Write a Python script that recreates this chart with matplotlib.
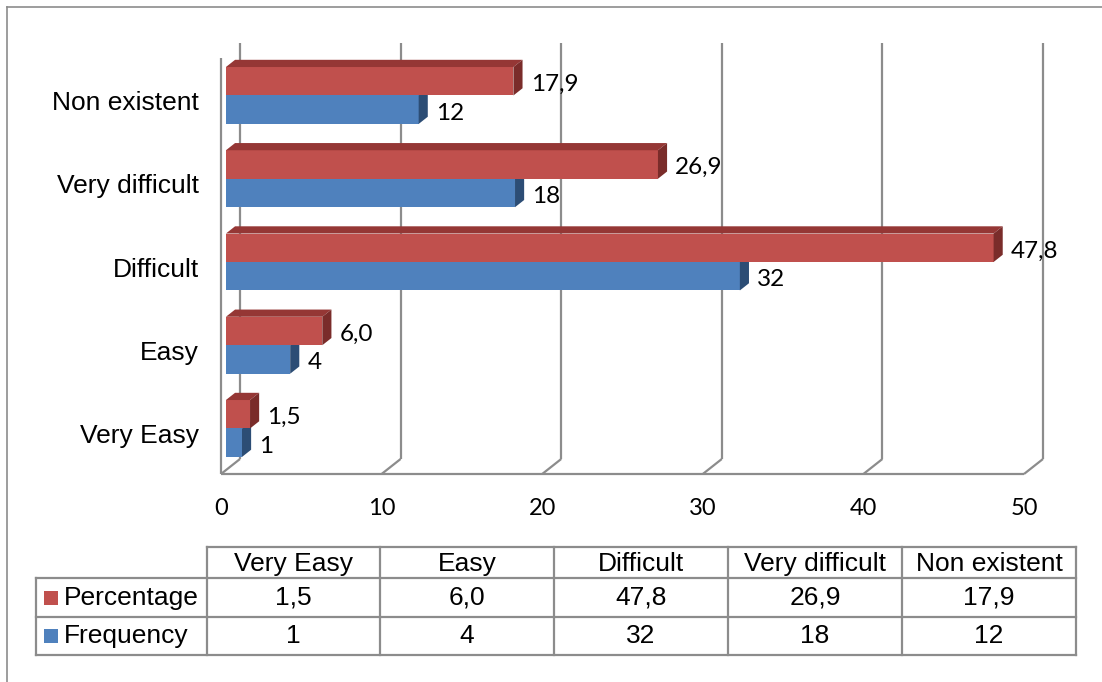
import matplotlib.pyplot as plt
from matplotlib.patches import Polygon, Rectangle

# survey answers, bottom to top
categories = ["Very Easy", "Easy", "Difficult", "Very difficult", "Non existent"]
percentage = [1.5, 6.0, 47.8, 26.9, 17.9]
frequency = [1, 4, 32, 18, 12]
x_ticks = [0, 10, 20, 30, 40, 50]
series_names = ["Percentage", "Frequency"]

RED = ("#C0504D", "#953735", "#7A2C2A")   # front, top, side
BLUE = ("#4F81BD", "#3A6496", "#2C4D75")
GRID = "#8C8C8C"
ARIAL = "Liberation Sans"
CALIBRI = "Lato"


def fmt(v):
    # decimal comma like the original spreadsheet
    return ("%.1f" % v).replace(".", ",") if isinstance(v, float) else str(v)


W, H = 1102, 682
fig = plt.figure(figsize=(W / 100, H / 100), dpi=100)

# pixel-space overlay: outer frame and data table
pix = fig.add_axes([0, 0, 1, 1])
pix.set_xlim(0, W)
pix.set_ylim(H, 0)
pix.axis("off")

# chart axes; the 3D look is faked by shifting points along a depth direction
SX, SY = 16.06, 83.25          # px per value unit, px per category
DX, DY = 19 / SX, 15 / SY      # full wall depth in data units
left, right, bottom, top = 221, 1070, 474, 30
ax = fig.add_axes([left / W, 1 - bottom / H, (right - left) / W, (bottom - top) / H])
ax.set_xlim(0, (right - left) / SX)
ax.set_ylim(-0.5, -0.5 + (bottom - top) / SY)
ax.axis("off")


def pt(v, y, d):
    return (v + d * DX, y + d * DY)


ymin, ymax = -0.5, len(categories) - 0.5
line_kw = dict(color=GRID, lw=1.6, clip_on=False, solid_capstyle="butt", zorder=1)

# back wall gridlines, floor diagonals, tick labels
for t in x_ticks:
    (x0, y0), (x1, y1) = pt(t, ymin, 1), pt(t, ymax, 1)
    ax.plot([x0, x1], [y0, y1], **line_kw)
    (x0, y0), (x1, y1) = pt(t, ymin, 0), pt(t, ymin, 1)
    ax.plot([x0, x1], [y0, y1], **line_kw)
    ax.text(t, ymin - 0.41, str(t), ha="center", va="center",
            family=CALIBRI, size=17, clip_on=False)
ax.plot([0, x_ticks[-1]], [ymin, ymin], **line_kw)
ax.plot([0, 0], [ymin, ymax], **line_kw)

# bars
f0, f1 = 0.26, 0.74
h = 0.342


def bar3d(v, y0, y1, colors, top_face=True):
    front, topc, side = colors
    ax.add_patch(Polygon([pt(0, y0, f0), pt(v, y0, f0), pt(v, y1, f0), pt(0, y1, f0)],
                         closed=True, fc=front, ec="none", zorder=3, clip_on=False))
    if top_face:
        ax.add_patch(Polygon([pt(0, y1, f0), pt(v, y1, f0), pt(v, y1, f1), pt(0, y1, f1)],
                             closed=True, fc=topc, ec="none", zorder=3, clip_on=False))
    ax.add_patch(Polygon([pt(v, y0, f0), pt(v, y0, f1), pt(v, y1, f1), pt(v, y1, f0)],
                         closed=True, fc=side, ec="none", zorder=3, clip_on=False))


for i, (p, f) in enumerate(zip(percentage, frequency)):
    bar3d(f, i - h, i, BLUE, top_face=False)
    bar3d(p, i, i + h, RED)
    for v, yc in ((p, i + h / 2), (f, i - h / 2)):
        ax.text(v + f1 * DX + 0.5, yc + f0 * DY - 0.04, fmt(v), ha="left", va="center",
                family=CALIBRI, size=17.5, clip_on=False, zorder=4)
    ax.text(-1.37, i - 0.045, categories[i], ha="right", va="center",
            family=ARIAL, size=19, clip_on=False)

# outer frame (runs off the right and bottom edges)
pix.plot([6.5, 6.5], [H, 6.5], color="#8C8C8C", lw=1.2)
pix.plot([6.5, W], [6.5, 6.5], color="#8C8C8C", lw=1.2)

# data table under the chart
col_x = [207, 380, 554, 728, 902, 1076]
row_y = [547, 578, 617, 655]
leg_x = 36
tkw = dict(color=GRID, lw=1.6, solid_capstyle="projecting")
pix.plot([col_x[0], col_x[-1]], [row_y[0], row_y[0]], **tkw)
for yy in row_y[1:]:
    pix.plot([leg_x, col_x[-1]], [yy, yy], **tkw)
pix.plot([leg_x, leg_x], [row_y[1], row_y[-1]], **tkw)
for xx in col_x:
    pix.plot([xx, xx], [row_y[0], row_y[-1]], **tkw)

rows = [percentage, frequency]
row_colors = [RED[0], BLUE[0]]
for j, name in enumerate(categories):
    cx = (col_x[j] + col_x[j + 1]) / 2
    pix.text(cx, (row_y[0] + row_y[1]) / 2 + 1.5, name, ha="center", va="center",
             family=ARIAL, size=19)
    for r, vals in enumerate(rows):
        pix.text(cx, (row_y[r + 1] + row_y[r + 2]) / 2, fmt(vals[j]),
                 ha="center", va="center", family=ARIAL, size=19)
for r, name in enumerate(series_names):
    yc = (row_y[r + 1] + row_y[r + 2]) / 2
    pix.add_patch(Rectangle((44, yc - 7), 14, 14, fc=row_colors[r], ec="none"))
    pix.text(64, yc, name, ha="left", va="center", family=ARIAL, size=19)

fig.savefig("out.png", dpi=100)
